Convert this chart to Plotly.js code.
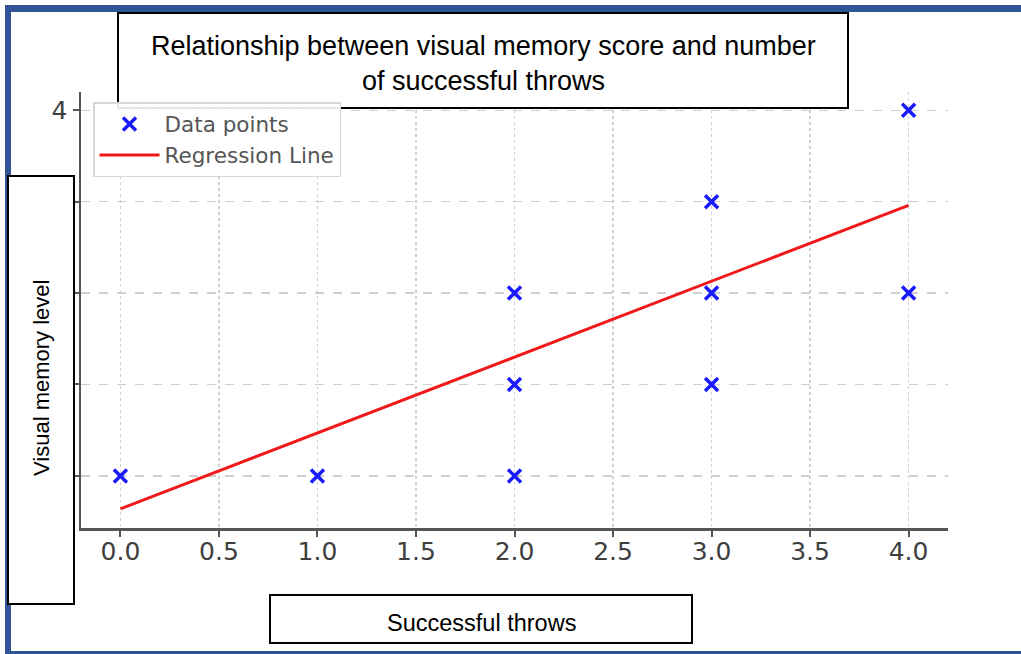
<!DOCTYPE html>
<html>
<head>
<meta charset="utf-8">
<script src="https://cdn.plot.ly/plotly-3.0.1.min.js"></script>
<style>
html,body{margin:0;padding:0;background:#fff;}
#chart{width:1021px;height:654px;}
</style>
</head>
<body>
<div id="chart"></div>
<script>
// Data
const throwsX = [0, 1, 2, 2, 2, 3, 3, 3, 4, 4];
const memoryY = [0, 0, 0, 1, 2, 1, 2, 3, 2, 4];
const regX = [0, 4];
const regY = [-0.36, 2.96];
const xTickVals = [0, 0.5, 1, 1.5, 2, 2.5, 3, 3.5, 4];
const xTickText = ['0.0','0.5','1.0','1.5','2.0','2.5','3.0','3.5','4.0'];
const yTickVals = [0, 1, 2, 3, 4];
const yTickText = ['0', '1', '2', '3', '4'];
const titleText = 'Relationship between visual memory score and number<br>of successful throws';
const xLabel = 'Successful throws';
const yLabel = 'Visual memory level';

// Layout geometry (pixels → paper)
const L = 81, R = 948, T = 92, B = 528;
const px = v => (v - L) / (R - L);
const py = v => (B - v) / (B - T);

const boxFont = "'Liberation Sans Narrow', 'Liberation Sans', Arial, sans-serif";
const mplFont = "'DejaVu Sans', sans-serif";

const traces = [
  {
    x: throwsX, y: memoryY, type: 'scatter', mode: 'markers', name: 'Data points',
    marker: {symbol: 'x-thin', size: 13, color: '#1a1aff', line: {color: '#1a1aff', width: 3.5}}
  },
  {
    x: regX, y: regY, type: 'scatter', mode: 'lines', name: 'Regression Line',
    line: {color: '#f01818', width: 3}
  }
];

const shapes = [
  // blue page border
  {type:'rect', xref:'paper', yref:'paper', x0:px(5), x1:px(1021), y0:py(5), y1:py(12), fillcolor:'#2f5597', line:{width:0}, layer:'above'},
  {type:'rect', xref:'paper', yref:'paper', x0:px(5), x1:px(11), y0:py(5), y1:py(654), fillcolor:'#2f5597', line:{width:0}, layer:'above'},
  {type:'rect', xref:'paper', yref:'paper', x0:px(5), x1:px(1021), y0:py(651), y1:py(654), fillcolor:'#2f5597', line:{width:0}, layer:'above'},
  // title box
  {type:'rect', xref:'paper', yref:'paper', x0:px(118), x1:px(848), y0:py(108), y1:py(13), fillcolor:'#ffffff', line:{color:'#000', width:2}, layer:'above'},
  // y label box
  {type:'rect', xref:'paper', yref:'paper', x0:px(8), x1:px(74), y0:py(604), y1:py(176), fillcolor:'#ffffff', line:{color:'#000', width:2}, layer:'above'},
  // x label box
  {type:'rect', xref:'paper', yref:'paper', x0:px(270), x1:px(692), y0:py(643), y1:py(595), fillcolor:'#ffffff', line:{color:'#000', width:2}, layer:'above'}
];

const annotations = [
  {xref:'paper', yref:'paper', x:px(483), y:py(63), text:titleText, showarrow:false,
   xanchor:'center', yanchor:'middle', font:{family:boxFont, size:27, color:'#000'}},
  {xref:'paper', yref:'paper', x:px(41), y:py(378), text:yLabel, showarrow:false, textangle:-90,
   xanchor:'center', yanchor:'middle', font:{family:boxFont, size:22, color:'#000'}},
  {xref:'paper', yref:'paper', x:px(481), y:py(623), text:xLabel, showarrow:false,
   xanchor:'center', yanchor:'middle', font:{family:boxFont, size:23.5, color:'#000'}}
];

const layout = {
  width: 1021, height: 654,
  margin: {l: L, r: 1021 - R, t: T, b: 654 - B, pad: 0},
  paper_bgcolor: '#fff', plot_bgcolor: '#fff',
  showlegend: true,
  legend: {
    x: px(93), y: py(102), xanchor: 'left', yanchor: 'top',
    bgcolor: 'rgba(255,255,255,0.9)', bordercolor: '#d8d8d8', borderwidth: 1.5,
    font: {family: mplFont, size: 21.5, color: '#555'},
    itemwidth: 60, tracegroupgap: 0
  },
  xaxis: {
    range: [-0.2, 4.2], tickvals: xTickVals, ticktext: xTickText,
    showgrid: true, gridcolor: '#cfcfcf', griddash: 'dot', gridwidth: 1.5,
    zeroline: false, showline: true, linecolor: '#555', linewidth: 2.5,
    ticks: 'outside', ticklen: 6, tickwidth: 2, tickcolor: '#555',
    ticklabelstandoff: -7,
    tickfont: {family: mplFont, size: 25, color: '#3f3f3f'}
  },
  yaxis: {
    range: [-0.57, 4.2], tickvals: yTickVals, ticktext: yTickText,
    showgrid: true, gridcolor: '#cfcfcf', griddash: 'dash', gridwidth: 1.5,
    zeroline: false, showline: true, linecolor: '#555', linewidth: 2.5,
    ticks: 'outside', ticklen: 6, tickwidth: 2, tickcolor: '#555',
    tickfont: {family: mplFont, size: 25, color: '#3f3f3f'}
  },
  shapes: shapes,
  annotations: annotations
};

Plotly.newPlot('chart', traces, layout, {displayModeBar: false, staticPlot: true});
</script>
</body>
</html>
